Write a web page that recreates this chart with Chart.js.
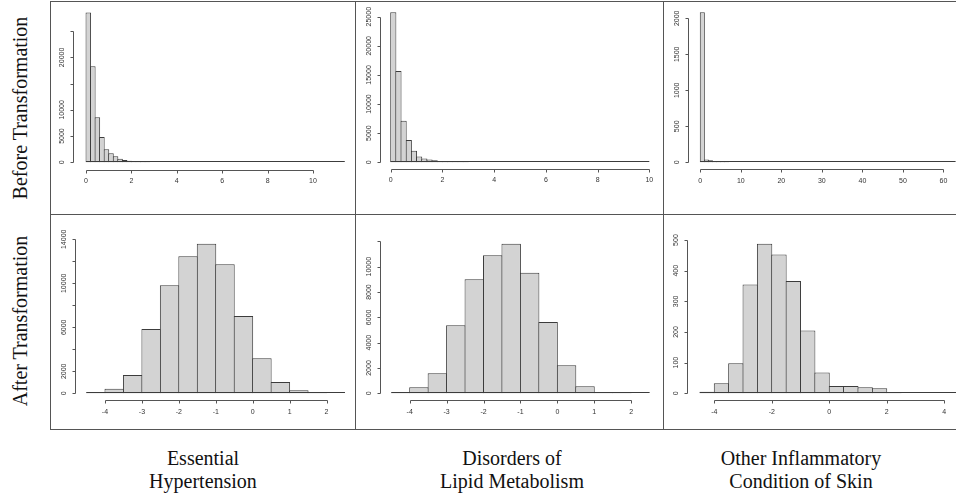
<!DOCTYPE html>
<html>
<head>
<meta charset="utf-8">
<script src="https://cdn.jsdelivr.net/npm/chart.js@4.4.1/dist/chart.umd.min.js"></script>
<style>
body { margin: 0; background: #fff; width: 956px; height: 495px; overflow: hidden; position: relative; font-family: "Liberation Serif", "Times New Roman", serif; color: #111; }
.frame { position: absolute; border: 1px solid #555; border-right: none; box-sizing: border-box; }
.vline { position: absolute; width: 1px; background: #555; }
.hline { position: absolute; height: 1px; background: #555; }
canvas { position: absolute; }
.rowlab { position: absolute; font-size: 20px; white-space: nowrap; transform: translate(-50%, -50%) rotate(-90deg); }
.collab { position: absolute; font-size: 20px; line-height: 23px; text-align: center; white-space: nowrap; transform: translateX(-50%); }
</style>
</head>
<body>
<div class="frame" style="left:50px;top:1px;width:910px;height:429px"></div>
<div class="vline" style="left:355px;top:1px;height:429px"></div>
<div class="vline" style="left:663px;top:1px;height:429px"></div>
<div class="hline" style="left:50px;top:214px;width:906px"></div>

<div class="rowlab" style="left:20px;top:108px">Before Transformation</div>
<div class="rowlab" style="left:20px;top:321px">After Transformation</div>

<div class="collab" style="left:203px;top:447px">Essential<br>Hypertension</div>
<div class="collab" style="left:512px;top:447px">Disorders of<br>Lipid Metabolism</div>
<div class="collab" style="left:801px;top:447px">Other Inflammatory<br>Condition of Skin</div>

<canvas id="hypRaw" width="304" height="212" style="left:51px;top:2px"></canvas>
<canvas id="lipRaw" width="307" height="212" style="left:356px;top:2px"></canvas>
<canvas id="skinRaw" width="292" height="212" style="left:664px;top:2px"></canvas>
<canvas id="hypLog" width="304" height="214" style="left:51px;top:215px"></canvas>
<canvas id="lipLog" width="307" height="214" style="left:356px;top:215px"></canvas>
<canvas id="skinLog" width="292" height="214" style="left:664px;top:215px"></canvas>

<script>
// ---- before transformation (raw values) ----
const hypRawStart = 0, hypRawWidth = 0.2;
const hypRawCounts = [28570, 18290, 8570, 4830, 2480, 1750, 1150, 700, 420, 300,
    190, 130, 80, 50, 30, 20, 12, 8, 5, 4,
    3, 2, 2, 1, 1, 1, 0, 1, 0, 0,
    1, 0, 0, 0, 0, 0, 0, 0, 0, 0,
    0, 0, 0, 0, 0, 0, 0, 0, 0, 0,
    0, 0, 0, 0, 0, 0, 1];
const hypRawXTicks = [0, 2, 4, 6, 8, 10];
const hypRawYTicks = [0, 5000, 10000, 15000, 20000, 25000];
const hypRawYLabels = [0, 5000, 10000, 20000];

const lipRawStart = 0, lipRawWidth = 0.2;
const lipRawCounts = [25744, 15675, 7150, 3830, 1980, 990, 640, 460, 340, 230,
    170, 115, 70, 45, 30, 20, 12, 8, 5, 3,
    2, 2, 1, 1, 1, 0, 1, 0, 0, 0,
    0, 0, 0, 0, 0, 0, 0, 0, 0, 0,
    0, 0, 0, 0, 0, 0, 0, 0, 0, 1];
const lipRawXTicks = [0, 2, 4, 6, 8, 10];
const lipRawYTicks = [0, 5000, 10000, 15000, 20000, 25000];
const lipRawYLabels = [0, 5000, 10000, 15000, 20000, 25000];

const skinRawStart = 0, skinRawWidth = 1;
const skinRawCounts = [2083, 40, 28, 14, 12, 6, 3, 2, 2, 1, 1, 1, 1, 0, 1, 0,
    0, 0, 0, 0, 0, 0, 0, 0, 0, 0, 0, 0, 0, 0, 0, 0, 0, 0, 0, 0,
    0, 0, 0, 0, 0, 0, 0, 0, 0, 0, 0, 0, 0, 0, 0, 0, 0, 0, 0, 0,
    0, 0, 0, 0, 0, 0, 1];
const skinRawXTicks = [0, 10, 20, 30, 40, 50, 60];
const skinRawYTicks = [0, 500, 1000, 1500, 2000];
const skinRawYLabels = [0, 500, 1000, 1500, 2000];

// ---- after transformation (log scale) ----
const hypLogStart = -4.5, hypLogWidth = 0.5;
const hypLogCounts = [91, 424, 1667, 5848, 9818, 12454, 13606, 11727, 7030, 3182, 1030, 273, 91, 15];
const hypLogXTicks = [-4, -3, -2, -1, 0, 1, 2];
const hypLogYTicks = [0, 2000, 4000, 6000, 8000, 10000, 12000, 14000];
const hypLogYLabels = [0, 2000, 6000, 10000, 14000];

const lipLogStart = -4.5, lipLogWidth = 0.5;
const lipLogCounts = [53, 474, 1579, 5368, 9000, 10895, 11816, 9526, 5632, 2211, 553, 90, 20, 3];
const lipLogXTicks = [-4, -3, -2, -1, 0, 1, 2];
const lipLogYTicks = [0, 2000, 4000, 6000, 8000, 10000, 12000];
const lipLogYLabels = [0, 2000, 4000, 6000, 8000, 10000];

const skinLogStart = -4.5, skinLogWidth = 0.5;
const skinLogCounts = [5, 33, 98, 355, 488, 453, 366, 205, 68, 24, 24, 20, 16, 3, 0, 0, 0, 0];
const skinLogXTicks = [-4, -2, 0, 2, 4];
const skinLogYTicks = [0, 100, 200, 300, 400, 500];
const skinLogYLabels = [0, 100, 200, 300, 400, 500];

const barFill = '#d3d3d3';
const barEdge = '#3c3c3c';
const axisColor = '#555555';
const tickFont = { family: '"Liberation Sans", Arial, sans-serif', size: 7 };
const tickColor = '#333333';

const measurer = document.createElement('canvas').getContext('2d');
measurer.font = '7px "Liberation Sans", Arial, sans-serif';

// R-style axes: line only from first to last tick, set off from the bars
const rAxes = {
    id: 'rAxes',
    afterDatasetsDraw(chart, args, opts) {
        const { ctx, chartArea, scales: { x, y } } = chart;
        ctx.save();
        ctx.lineWidth = 1;
        // empty bins still leave a line on the baseline
        ctx.strokeStyle = barEdge;
        const y0 = Math.round(y.getPixelForValue(0)) - 0.5;
        ctx.beginPath();
        ctx.moveTo(x.getPixelForValue(opts.from), y0);
        ctx.lineTo(x.getPixelForValue(opts.to), y0);
        ctx.stroke();

        ctx.strokeStyle = axisColor;
        ctx.beginPath();
        const xs = x.ticks.map(t => Math.round(x.getPixelForValue(t.value)) + 0.5);
        const ab = Math.round(chartArea.bottom) + 0.5;
        ctx.moveTo(xs[0], ab);
        ctx.lineTo(xs[xs.length - 1], ab);
        xs.forEach(p => { ctx.moveTo(p, ab); ctx.lineTo(p, ab + 3); });
        const ys = y.ticks.map(t => Math.round(y.getPixelForValue(t.value)) + 0.5);
        const al = Math.round(chartArea.left) - 0.5;
        ctx.moveTo(al, ys[0]);
        ctx.lineTo(al, ys[ys.length - 1]);
        ys.forEach(p => { ctx.moveTo(al, p); ctx.lineTo(al - 3, p); });
        ctx.stroke();
        ctx.restore();
    }
};

// cell = canvas box on the page, area = plot region on the page
function histogram(id, cell, area, xRange, yRange, start, width, counts, xTicks, yTicks, yLabels) {
    const binPx = width * (area.right - area.left) / (xRange[1] - xRange[0]);
    const widest = Math.max(...yLabels.map(v => measurer.measureText(String(v)).width));
    new Chart(document.getElementById(id), {
        type: 'bar',
        data: {
            datasets: [{
                data: counts.map((c, i) => ({ x: start + (i + 0.5) * width, y: c })),
                backgroundColor: barFill,
                borderColor: barEdge,
                borderWidth: 1,
                borderSkipped: false,
                categoryPercentage: 1,
                barPercentage: (binPx + 1) / binPx,
            }]
        },
        options: {
            responsive: false,
            animation: false,
            events: [],
            layout: { padding: { left: 0, bottom: 0, top: area.top - cell.top, right: cell.right - area.right } },
            plugins: {
                legend: { display: false },
                tooltip: { enabled: false },
                rAxes: { from: start, to: start + counts.length * width }
            },
            scales: {
                x: {
                    type: 'linear',
                    offset: false,
                    min: xRange[0],
                    max: xRange[1],
                    afterBuildTicks: a => { a.ticks = xTicks.map(v => ({ value: v })); },
                    afterFit: s => { s.height = cell.bottom - area.bottom; },
                    grid: { display: false, drawTicks: true, tickLength: 7.8 },
                    border: { display: false },
                    ticks: { padding: 0, autoSkip: false, maxRotation: 0, font: tickFont, color: tickColor, callback: v => String(v) }
                },
                y: {
                    min: yRange[0],
                    max: yRange[1],
                    afterBuildTicks: a => { a.ticks = yTicks.map(v => ({ value: v })); },
                    afterFit: s => { s.width = area.left - cell.left; },
                    grid: { display: false, drawTicks: true, tickLength: 11.5 - widest / 2 },
                    border: { display: false },
                    ticks: {
                        padding: 0, autoSkip: false, minRotation: 90, maxRotation: 90, crossAlign: 'center',
                        font: tickFont, color: tickColor,
                        callback: v => yLabels.includes(v) ? String(v) : ''
                    }
                }
            }
        },
        plugins: [rAxes]
    });
}

histogram('hypRaw', { left: 51, top: 2, right: 355, bottom: 214 }, { left: 74, right: 350, top: 6, bottom: 169.5 },
    [-0.53, 11.63], [-1371, 29760], hypRawStart, hypRawWidth, hypRawCounts, hypRawXTicks, hypRawYTicks, hypRawYLabels);
histogram('lipRaw', { left: 356, top: 2, right: 663, bottom: 214 }, { left: 381, right: 655, top: 7, bottom: 168.5 },
    [-0.375, 10.22], [-1065, 26666], lipRawStart, lipRawWidth, lipRawCounts, lipRawXTicks, lipRawYTicks, lipRawYLabels);
histogram('skinRaw', { left: 664, top: 2, right: 956, bottom: 214 }, { left: 688.7, right: 956, top: 7, bottom: 169.3 },
    [-2.86, 63.1], [-97, 2157], skinRawStart, skinRawWidth, skinRawCounts, skinRawXTicks, skinRawYTicks, skinRawYLabels);
histogram('hypLog', { left: 51, top: 215, right: 355, bottom: 429 }, { left: 76, right: 352, top: 237, bottom: 400 },
    [-4.785, 2.69], [-609, 14209], hypLogStart, hypLogWidth, hypLogCounts, hypLogXTicks, hypLogYTicks, hypLogYLabels);
histogram('lipLog', { left: 356, top: 215, right: 663, bottom: 429 }, { left: 381, right: 657, top: 237, bottom: 400 },
    [-4.777, 2.7], [-529, 12346], lipLogStart, lipLogWidth, lipLogCounts, lipLogXTicks, lipLogYTicks, lipLogYLabels);
histogram('skinLog', { left: 664, top: 215, right: 956, bottom: 429 }, { left: 688, right: 956, top: 237, bottom: 400 },
    [-4.915, 4.41], [-22, 510], skinLogStart, skinLogWidth, skinLogCounts, skinLogXTicks, skinLogYTicks, skinLogYLabels);
</script>
</body>
</html>
